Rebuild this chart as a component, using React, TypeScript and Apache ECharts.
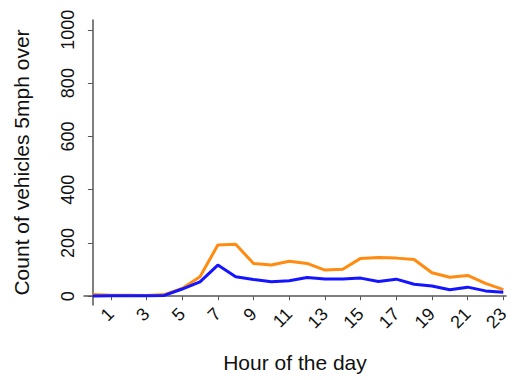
import React, { useEffect, useRef } from "react";
import * as echarts from "echarts";

const hours = Array.from({ length: 24 }, (_, i) => i);
const orangeValues = [6, 4, 4, 3, 6, 29, 73, 192, 195, 123, 117, 131, 123, 98, 101, 142, 145, 143, 138, 88, 71, 78, 48, 25];
const blueValues = [1, 2, 2, 2, 3, 27, 54, 117, 73, 63, 54, 58, 70, 65, 65, 68, 55, 64, 45, 38, 24, 34, 20, 15];
const xTickValues = [1, 3, 5, 7, 9, 11, 13, 15, 17, 19, 21, 23];
const yTickValues = [0, 200, 400, 600, 800, 1000];

export default function App() {
  const ref = useRef<HTMLDivElement>(null);
  useEffect(() => {
    if (!ref.current) return;
    const chart = echarts.init(ref.current, undefined, { renderer: "svg" });
    const font = "'Liberation Sans', Arial, Helvetica, sans-serif";
    chart.setOption({
      animation: false,
      backgroundColor: "#ffffff",
      grid: { left: 84, right: 6, top: 20, bottom: 75, containLabel: false },
      xAxis: {
        type: "value",
        min: -0.5,
        max: 23.15,
        name: "Hour of the day",
        nameLocation: "middle",
        nameGap: 47,
        nameTextStyle: { fontFamily: font, fontSize: 21, color: "#111" },
        axisLine: { show: true, lineStyle: { color: "#555", width: 1.5 } },
        axisTick: { show: true, length: 4, customValues: xTickValues, lineStyle: { color: "#555" } },
        axisLabel: {
          customValues: xTickValues,
          rotate: 45,
          margin: 6,
          fontFamily: font,
          fontSize: 18,
          color: "#111",
          formatter: (v: number) => String(v),
        },
        splitLine: { show: false },
      },
      yAxis: {
        type: "value",
        min: -33,
        max: 1037,
        name: "Count of vehicles 5mph over",
        nameLocation: "middle",
        nameRotate: 90,
        nameGap: 52,
        nameTextStyle: { fontFamily: font, fontSize: 21, color: "#111" },
        axisLine: { show: true, lineStyle: { color: "#555", width: 1.5 } },
        axisTick: { show: true, length: 5, customValues: yTickValues, lineStyle: { color: "#555" } },
        axisLabel: {
          customValues: yTickValues,
          rotate: 90,
          margin: 7,
          fontFamily: font,
          fontSize: 18,
          color: "#111",
          formatter: (v: number) => String(v),
        },
        splitLine: { show: false },
      },
      series: [
        {
          type: "line",
          data: hours.map((h, i) => [h, orangeValues[i]]),
          showSymbol: false,
          lineStyle: { color: "#ff8c10", width: 3 },
          itemStyle: { color: "#ff8c10" },
          z: 2,
        },
        {
          type: "line",
          data: hours.map((h, i) => [h, blueValues[i]]),
          showSymbol: false,
          lineStyle: { color: "#1414ff", width: 3 },
          itemStyle: { color: "#1414ff" },
          z: 3,
        },
      ],
    });
    return () => chart.dispose();
  }, []);
  return <div ref={ref} style={{ width: 512, height: 380, position: "absolute", left: 0, top: 0 }} />;
}
